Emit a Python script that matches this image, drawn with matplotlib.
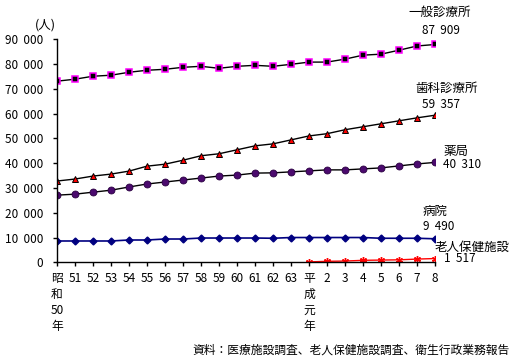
import matplotlib.pyplot as plt
from matplotlib.ticker import FuncFormatter

plt.rcParams['font.family'] = ['Noto Sans CJK JP', 'DejaVu Sans']

years = ['昭\n和\n50\n年', '51', '52', '53', '54', '55', '56', '57', '58', '59', '60',
         '61', '62', '63', '平\n成\n元\n年', '2', '3', '4', '5', '6', '7', '8']

general = [73100, 73900, 75100, 75500, 76700, 77500, 77900, 78700, 79100, 78300, 79100,
           79500, 79100, 79900, 80800, 80800, 82000, 83600, 84000, 85600, 87300, 87909]
dental = [32800, 33600, 34800, 35600, 36800, 38800, 39600, 41200, 43000, 43800, 45400,
          47000, 47800, 49400, 51000, 51900, 53500, 54700, 55900, 57100, 58300, 59357]
pharmacy = [27100, 27500, 28300, 29100, 30400, 31600, 32400, 33200, 34000, 34800, 35200,
            36000, 36100, 36500, 36900, 37300, 37300, 37700, 38100, 38900, 39700, 40310]
hospital = [8600, 8600, 8600, 8600, 9000, 9000, 9400, 9400, 9800, 9800, 9800,
            9800, 9700, 10000, 10000, 10000, 10000, 10000, 9700, 9700, 9700, 9490]
elderly_x = list(range(14, 22))
elderly = [150, 400, 500, 800, 900, 1000, 1300, 1517]

x = list(range(len(years)))

W, H = 520, 363
fig = plt.figure(figsize=(W / 100, H / 100), dpi=100)
ax = fig.add_axes([57 / W, 1 - 262.3 / H, (435 - 57) / W, 223 / H])

ax.plot(x, general, color='black', lw=1, marker='s', ms=4.5, mfc='black', mec='#ff00ff', mew=1.1)
ax.plot(x, dental, color='black', lw=1, marker='^', ms=5, mfc='red', mec='black', mew=0.7)
ax.plot(x, pharmacy, color='black', lw=1, marker='o', ms=5, mfc='#4b0a6e', mec='#2a0040', mew=0.6)
ax.plot(x, hospital, color='#000080', lw=1.2, marker='D', ms=3.5, mfc='#000080', mec='#000080')
ax.plot(elderly_x, elderly, color='red', lw=1, marker=(6, 2, 0), ms=5, mec='red', mew=1)

ax.set_xlim(0, 21)
ax.set_ylim(0, 90000)
ax.set_yticks(range(0, 90001, 10000))
ax.yaxis.set_major_formatter(FuncFormatter(lambda v, p: '0' if v == 0 else f'{int(v):,}'.replace(',', '  ')))
ax.set_xticks(x)
ax.set_xticklabels(years, linespacing=1.3, va='top')
ax.tick_params(direction='out', length=3, labelsize=8.5, width=1)
ax.tick_params(axis='x', pad=4)
ax.tick_params(axis='y', pad=7)
for s in ['top', 'right']:
    ax.spines[s].set_visible(False)
for s in ['left', 'bottom']:
    ax.spines[s].set_linewidth(1)

def ftext(px, py, s, ha='left', size=9):
    fig.text(px / W, 1 - py / H, s, ha=ha, va='center', fontsize=size)

ftext(35, 25, '(人)')
ftext(408, 12, '一般診療所')
ftext(422, 30, '87  909', size=8.5)
ftext(415, 88, '歯科診療所')
ftext(422, 105, '59  357', size=8.5)
ftext(444, 151, '薬局')
ftext(443, 164, '40  310', size=8.5)
ftext(423, 211, '病院')
ftext(423, 226, '9  490', size=8.5)
ftext(435, 247, '老人保健施設')
ftext(444, 259, '1  517', size=8.5)
ftext(510, 350, '資料：医療施設調査、老人保健施設調査、衛生行政業務報告', ha='right', size=8.5)

fig.savefig('out.png', dpi=100)
